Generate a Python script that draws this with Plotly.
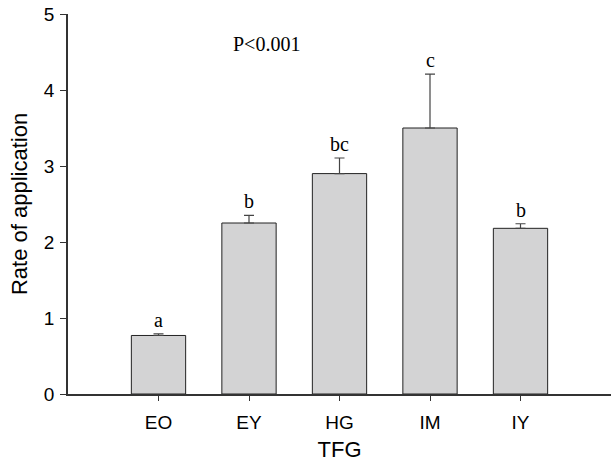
import plotly.graph_objects as go

categories = ["EO", "EY", "HG", "IM", "IY"]
means = [0.77, 2.25, 2.90, 3.50, 2.18]
errors = [0.02, 0.10, 0.205, 0.71, 0.06]
letters = ["a", "b", "bc", "c", "b"]
y_ticks = [0, 1, 2, 3, 4, 5]
p_text = "P<0.001"

idx = list(range(len(categories)))

fig = go.Figure()
fig.add_trace(go.Bar(
    x=idx, y=means, width=0.6,
    marker=dict(color="#d3d3d4", line=dict(color="#222222", width=1)),
    error_y=dict(type="data", array=errors, arrayminus=[0]*len(errors),
                 symmetric=False, color="#444444", thickness=1.2, width=5),
    showlegend=False,
))

for i, (m, e, t) in enumerate(zip(means, errors, letters)):
    fig.add_annotation(x=i, y=m + e, text=t, showarrow=False,
                       yanchor="bottom", yshift=1,
                       font=dict(family="Liberation Serif", size=20, color="black"))

fig.add_annotation(x=0.365, y=0.921, xref="paper", yref="paper", text=p_text,
                   showarrow=False, yanchor="middle", xanchor="center",
                   font=dict(family="Liberation Serif", size=20, color="black"))

fig.update_layout(
    width=612, height=463,
    margin=dict(l=68, r=1, t=14, b=69),
    plot_bgcolor="white", paper_bgcolor="white",
    font=dict(family="Liberation Sans", size=18, color="black"),
    bargap=0.4,
)
fig.update_xaxes(range=[-1, 5], tickvals=idx, ticktext=categories,
                 showline=True, linecolor="#333333", linewidth=1.5,
                 ticks="outside", ticklen=5, tickcolor="#333333",
                 tickfont=dict(size=19), ticklabelstandoff=5,
                 showgrid=False, zeroline=False,
                 title=dict(text="TFG", standoff=10))
fig.update_yaxes(range=[0, 5], tickvals=y_ticks,
                 showline=True, linecolor="#333333", linewidth=1.5,
                 ticks="outside", ticklen=6, tickcolor="#333333",
                 tickfont=dict(size=19), ticklabelstandoff=2,
                 showgrid=False, zeroline=False,
                 title=dict(text="Rate of application", standoff=10))

fig.write_html("out.html")
